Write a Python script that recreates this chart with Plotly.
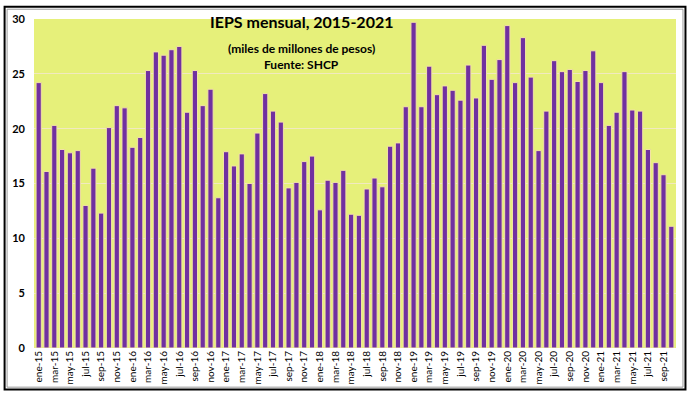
import plotly.graph_objects as go

months = ["ene", "feb", "mar", "abr", "may", "jun", "jul", "ago", "sep", "oct", "nov", "dic"]
years = ["15", "16", "17", "18", "19", "20", "21"]
categories = [f"{m}-{y}" for y in years for m in months][:82]

values = [
    24.2, 16.1, 20.3, 18.1, 17.8, 18.0, 13.0, 16.4, 12.3, 20.1, 22.1, 21.9,
    18.3, 19.2, 25.3, 27.0, 26.7, 27.2, 27.5, 21.5, 25.3, 22.1, 23.6, 13.7,
    17.9, 16.6, 17.7, 15.0, 19.6, 23.2, 21.6, 20.6, 14.6, 15.1, 17.0, 17.5,
    12.6, 15.3, 15.1, 16.2, 12.2, 12.1, 14.5, 15.5, 14.7, 18.4, 18.7, 22.0,
    29.7, 22.0, 25.7, 23.1, 23.9, 23.5, 22.6, 25.8, 22.8, 27.6, 24.5, 26.3,
    29.4, 24.2, 28.3, 24.7, 18.0, 21.6, 26.2, 25.2, 25.4, 24.3, 25.3, 27.1,
    24.2, 20.3, 21.5, 25.2, 21.7, 21.6, 18.1, 16.9, 15.8, 11.1,
]
tick_labels = categories[::2]

title_lines = ["IEPS mensual, 2015-2021", "(miles de millones de pesos)", "Fuente: SHCP"]

fig = go.Figure(go.Bar(
    x=categories, y=values,
    marker=dict(color="#7030A0", line=dict(color="#F3E2A6", width=1)),
))

W, H = 688, 397
ml, mr, mt, mb = 32, 12, 15, 46
fig.update_layout(
    width=W, height=H,
    margin=dict(l=ml, r=mr, t=mt, b=mb),
    paper_bgcolor="white",
    plot_bgcolor="#E6F07A",
    bargap=0.33,
    showlegend=False,
    font=dict(family="Lato, Open Sans, sans-serif", color="black"),
)
fig.update_yaxes(
    range=[0, 30], dtick=5, showgrid=True, gridcolor="#F1E9C0", gridwidth=1,
    zeroline=False, ticks="", tickfont=dict(size=11, family="Lato", weight="bold"),
    ticklabelstandoff=8,
)
fig.update_xaxes(
    type="category", tickmode="array", tickvals=tick_labels, ticktext=tick_labels,
    tickangle=-90, tickfont=dict(size=10, family="Lato"), showgrid=False,
    ticks="", range=[-0.6, 81.6],
)

pw = W - ml - mr
ph = H - mt - mb
def px_to_paper(x, y):
    return (x - ml) / pw, (H - mb - y) / ph

# title annotations inside plot area
for text, ypx, size in zip(title_lines, [18, 45, 61], [16, 12, 12]):
    xp, yp = px_to_paper(300, ypx)
    fig.add_annotation(text=f"<b>{text}</b>", x=xp, y=yp, xref="paper", yref="paper",
                       showarrow=False, xanchor="center", yanchor="middle",
                       font=dict(size=size, family="Lato", color="black"))

# outer border
x0, y0 = px_to_paper(2.5, 393.5)
x1, y1 = px_to_paper(685.5, 2.5)
fig.add_shape(type="rect", xref="paper", yref="paper", x0=x0, y0=y0, x1=x1, y1=y1,
              line=dict(color="black", width=2), layer="above")
x0, y0 = px_to_paper(5, 391)
x1, y1 = px_to_paper(683, 5)
fig.add_shape(type="rect", xref="paper", yref="paper", x0=x0, y0=y0, x1=x1, y1=y1,
              line=dict(color="#9a9a9a", width=1), layer="above")

fig.write_html("out.html", config={"displayModeBar": False},
               post_script="document.body.style.margin='0';document.body.style.overflow='hidden';")
